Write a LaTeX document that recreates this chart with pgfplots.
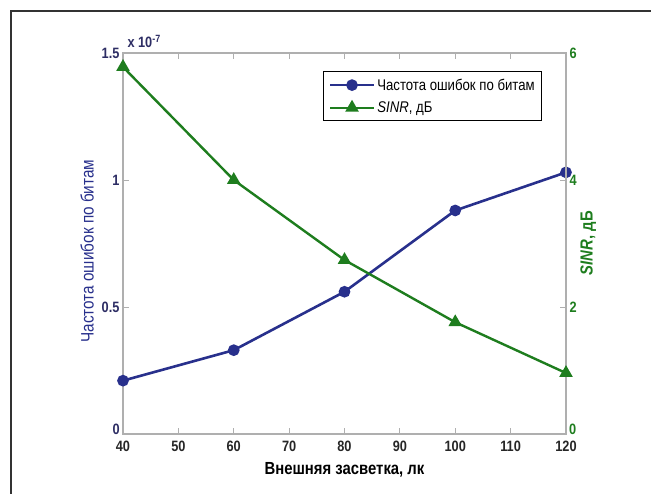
\documentclass[border=0pt]{standalone}
\usepackage{pgfplots}
\pgfplotsset{compat=1.18}
\usepackage{fontspec}
\setmainfont{Liberation Sans}[FakeStretch=0.85]

\definecolor{berblue}{RGB}{40,48,140}
\definecolor{sinrgreen}{RGB}{30,125,30}
\definecolor{axgray}{RGB}{175,175,175}
\definecolor{navytick}{RGB}{45,45,100}

\pgfplotsset{
  common/.style={
    at={(123pt,60pt)}, anchor=south west,
    scale only axis, width=443pt, height=381pt,
    xmin=40, xmax=120,
    axis line style={axgray, line width=1.2pt, -},
    tick style={axgray, line width=0.9pt},
    major tick length=6pt, tick align=inside,
    /pgf/number format/assume math mode=true,
    clip=false,
  },
}

\begin{document}
\begin{tikzpicture}
\useasboundingbox (0pt,0pt) rectangle (651pt,494pt);
\draw[line width=2.2pt, black!80] (11pt,0pt) -- (11pt,483pt) -- (651pt,483pt);

% left axis: bit error rate (x 1e-7)
\begin{axis}[common,
  ymin=0, ymax=1.5,
  xtick={40,50,...,120}, ytick={0,0.5,1,1.5},
  yticklabels={{},0.5,1,1.5},
  xtick pos=both, ytick pos=left,
  xticklabel style={font=\fontsize{15}{15}\selectfont\bfseries, text=black!85, yshift=-3.5pt},
  yticklabel style={font=\fontsize{15}{15}\selectfont\bfseries, text=navytick},
  xlabel={Внешняя засветка, лк},
  xlabel style={font=\fontsize{17.5}{17.5}\selectfont\bfseries, text=black,
    at={(axis description cs:0.5,-0.094)}, anchor=center},
  ylabel={Частота ошибок по битам},
  ylabel style={font=\fontsize{18}{18}\selectfont, text=berblue,
    at={(axis description cs:-0.081,0.48)}, anchor=center},
]
  \addplot[berblue, line width=2.6pt, mark=*, mark size=4.5pt,
    mark options={fill=berblue}] coordinates {
    (40,0.21) (60,0.33) (80,0.56) (100,0.88) (120,1.03)
  };
  \node[anchor=base west, text=navytick, font=\fontsize{15}{15}\selectfont\bfseries]
    at (rel axis cs:0,1) [xshift=1pt, yshift=5pt] {x 10\textsuperscript{-7}};
  % zero label sits a little above the corner, as in the original
  \node[anchor=east, inner sep=3pt, text=navytick, font=\fontsize{15}{15}\selectfont\bfseries]
    at (rel axis cs:0,0) [yshift=5pt] {0};
\end{axis}

% right axis: SINR, dB
\begin{axis}[common,
  ymin=0, ymax=6,
  axis x line=none, axis y line*=right,
  ytick={0,2,4,6}, ytick pos=right,
  yticklabels={{},2,4,6},
  yticklabel style={font=\fontsize{15}{15}\selectfont\bfseries, text=sinrgreen},
  ylabel={\textit{SINR}, дБ},
  ylabel style={font=\fontsize{17.5}{17.5}\selectfont\bfseries, text=sinrgreen,
    at={(axis description cs:1.05,0.501)}, anchor=center},
  legend style={at={(0.946,0.952)}, anchor=north east, draw=black,
    line width=0.8pt, font=\fontsize{15.5}{17}\selectfont,
    inner xsep=5pt, inner ysep=5pt, row sep=6pt},
  legend cell align=left,
  legend image code/.code={
    \draw[mark repeat=2, mark phase=2] plot coordinates {(0pt,0pt) (22pt,0pt) (44pt,0pt)};
  },
]
  \addlegendimage{berblue, line width=2.6pt, mark=*, mark size=4.5pt, mark options={fill=berblue}}
  \addlegendentry{Частота ошибок по битам}
  \addplot[sinrgreen, line width=2.4pt, mark=triangle*, mark size=5.5pt,
    mark options={fill=sinrgreen}] coordinates {
    (40,5.78) (60,4.0) (80,2.74) (100,1.76) (120,0.96)
  };
  \addlegendentry{\textit{SINR}, дБ}
  \node[anchor=west, inner sep=3pt, text=sinrgreen, font=\fontsize{15}{15}\selectfont\bfseries]
    at (rel axis cs:1,0) [yshift=5pt] {0};
\end{axis}
\end{tikzpicture}
\end{document}
